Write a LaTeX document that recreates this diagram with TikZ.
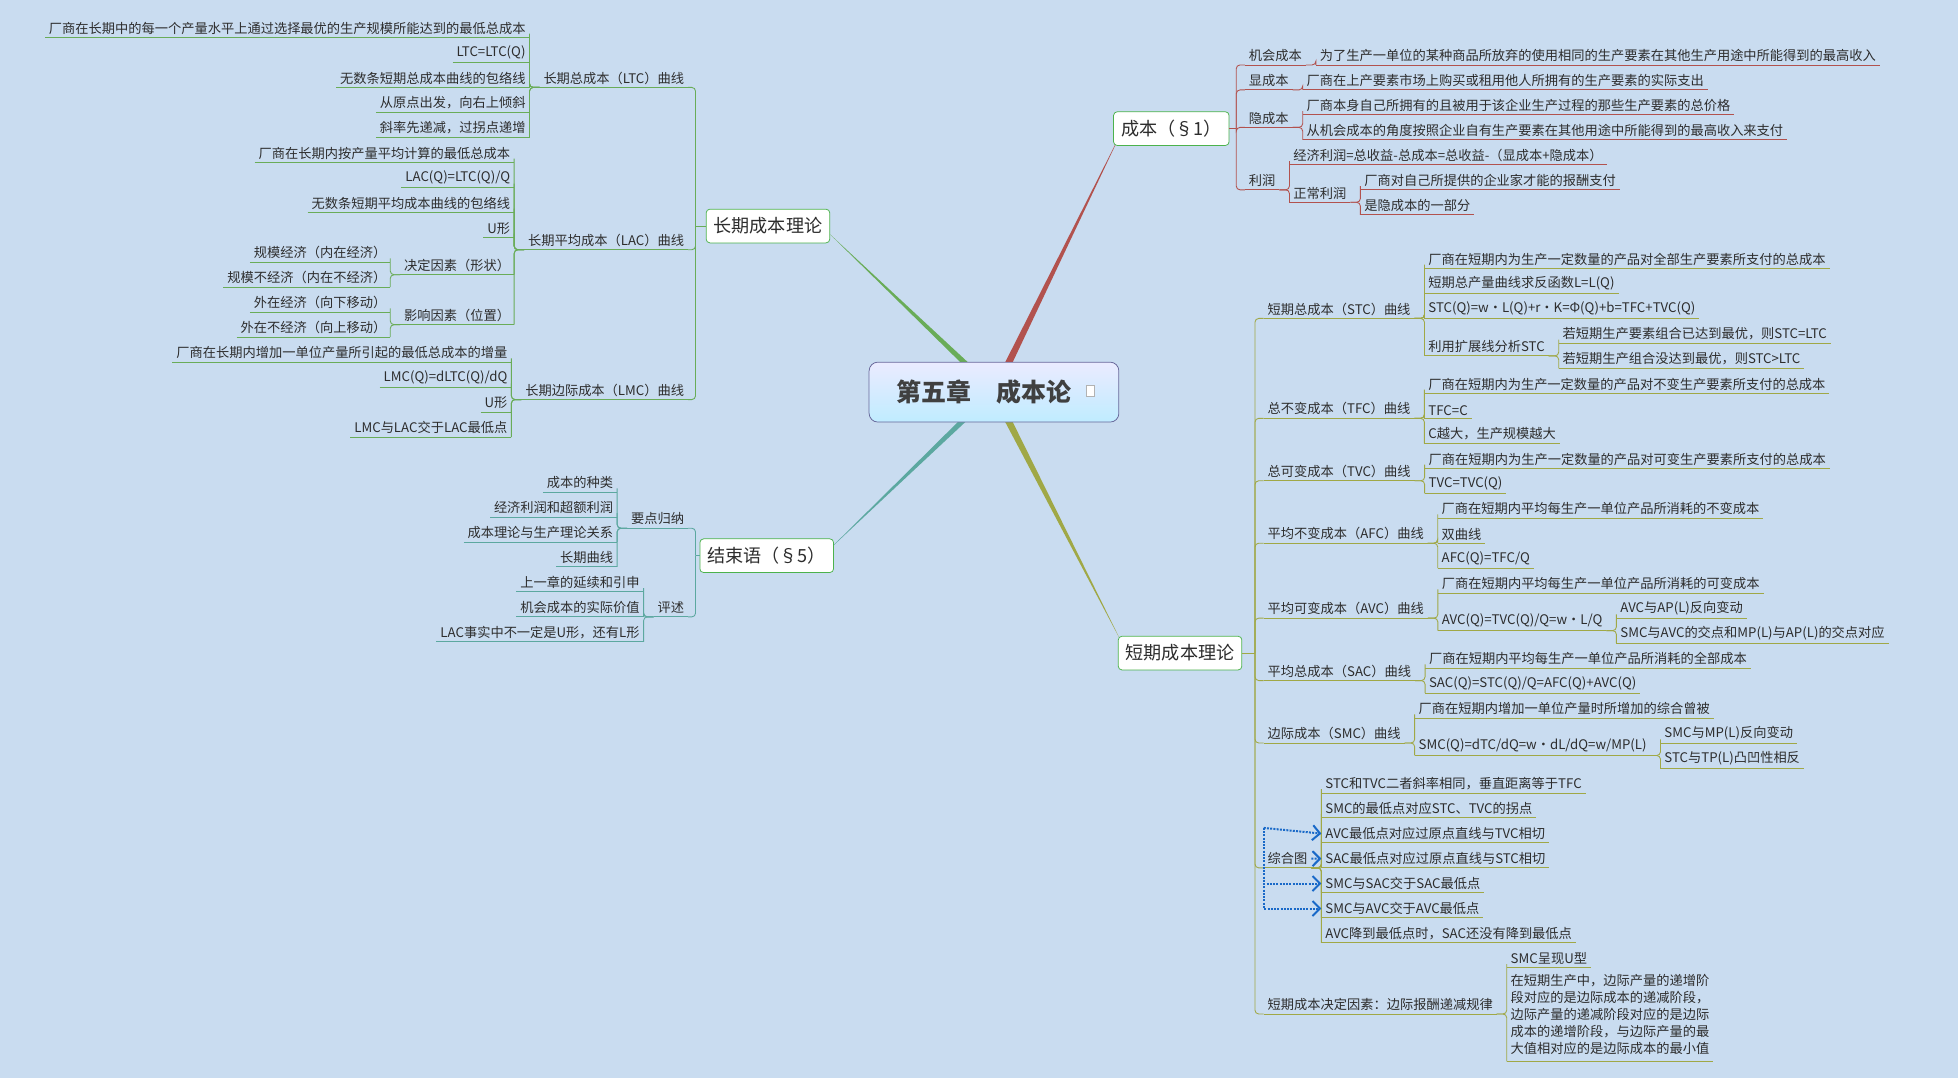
\documentclass[tikz,border=0pt]{standalone}
\usepackage{fontspec}
\setmainfont{Noto Sans CJK SC}
\usetikzlibrary{arrows.meta,calc}
\definecolor{bg}{RGB}{201,220,240}
\definecolor{txt}{RGB}{45,45,45}
\definecolor{cg}{RGB}{105,172,88}
\definecolor{ct}{RGB}{92,168,160}
\definecolor{cr}{RGB}{178,82,78}
\definecolor{co}{RGB}{160,168,70}
\definecolor{relc}{RGB}{25,105,200}
\colorlet{bc}{cg}
\newcommand\ULx[1]{\draw[ul](#1.south west)--(#1.south east);}
\newcommand\LC[4]{\node[lt,anchor=south east](#2) at ($(#1.south west)+(-8,#3)$){#4};\ULx{#2}
 \draw[cn](#1.south west)--($(#1.south west)+(-8,0)$)|-(#2.south east);}
\newcommand\RC[4]{\node[lt,anchor=south west](#2) at ($(#1.south east)+(8,#3)$){#4};\ULx{#2}
 \draw[cn](#1.south east)--($(#1.south east)+(8,0)$)|-(#2.south west);}
\newcommand\LT[4]{\node[lt,anchor=south east](#1) at (#2,#3){#4};\ULx{#1}}
\newcommand\RT[4]{\node[lt,anchor=south west](#1) at (#2,#3){#4};\ULx{#1}}
\begin{document}
\begin{tikzpicture}[x=1pt,y=-1pt,
 lt/.style={font=\fontsize{10.6}{13.6}\selectfont, text=txt, inner xsep=3pt, inner ysep=2.3pt},
 ul/.style={draw=bc, line width=0.7pt},
 cn/.style={draw=bc, line width=0.7pt, rounded corners=3pt},
 mn/.style={draw=gray!60!green, fill=white, rounded corners=3pt, line width=0.6pt,
   font=\fontsize{14.5}{16}\selectfont, text=txt, inner xsep=6pt, minimum height=27pt},
 rel/.style={draw=relc, densely dotted, line width=1.6pt, -{Straight Barb[length=6pt,width=12pt,line width=1.6pt]}}]
\fill[bg] (0,0) rectangle (1568,863);
\useasboundingbox (0,0) rectangle (1568,863);
% trunk lines
\coordinate (g0) at (772,290); \coordinate (g1) at (664,187);
\coordinate (t0) at (770,338); \coordinate (t1) at (663,441);
\coordinate (r0) at (808,290); \coordinate (r1) at (898,106);
\coordinate (o0) at (808,338); \coordinate (o1) at (898,514);
\fill[cg] ($(g0)+(-3,0)$)--($(g0)+(3,0)$)--(g1)--cycle;
\fill[ct] ($(t0)+(-3,0)$)--($(t0)+(3,0)$)--(t1)--cycle;
\fill[cr] ($(r0)+(-3,0)$)--($(r0)+(3,0)$)--(r1)--cycle;
\fill[co] ($(o0)+(-3,0)$)--($(o0)+(3,0)$)--(o1)--cycle;
\node[draw=gray!80!blue, rounded corners=7pt, minimum width=200pt, minimum height=48pt,
  top color=blue!8!white, bottom color=blue!30!cyan!25!white, line width=0.6pt] (R) at (796,314) {};
\node[font=\fontsize{20}{22}\selectfont\bfseries, text=black!75] (Rt) at (788,314) {第五章　成本论};
\node[draw=gray!60, fill=white, minimum width=7pt, minimum height=9pt, inner sep=0pt] (Ri) at (873,313) {};
% ===== left: 长期成本理论
\node[mn] (LTn) at (615,181) {长期成本理论};
\coordinate (J1) at (557,181);
\draw[cn] (J1)--(LTn.west);
\LT{A}{551}{70}{长期总成本（LTC）曲线}
\draw[cn] (A.south east)-|(J1);
\LC{A}{a1}{-40}{厂商在长期中的每一个产量水平上通过选择最优的生产规模所能达到的最低总成本}
\LC{A}{a2}{-20}{LTC=LTC(Q)}
\LC{A}{a3}{0}{无数条短期总成本曲线的包络线}
\LC{A}{a4}{20}{从原点出发，向右上倾斜}
\LC{A}{a5}{40}{斜率先递减，过拐点递增}
\LT{B}{551}{200}{长期平均成本（LAC）曲线}
\draw[cn] (B.south east)-|(J1);
\LC{B}{b1}{-70}{厂商在长期内按产量平均计算的最低总成本}
\LC{B}{b2}{-50}{LAC(Q)=LTC(Q)/Q}
\LC{B}{b3}{-30}{无数条短期平均成本曲线的包络线}
\LC{B}{b4}{-10}{U形}
\LC{B}{b5}{20}{决定因素（形状）}
\LC{B}{b6}{60}{影响因素（位置）}
\LC{b5}{b51}{-10}{规模经济（内在经济）}
\LC{b5}{b52}{10}{规模不经济（内在不经济）}
\LC{b6}{b61}{-10}{外在经济（向下移动）}
\LC{b6}{b62}{10}{外在不经济（向上移动）}
\LT{C}{551}{320}{长期边际成本（LMC）曲线}
\draw[cn] (C.south east)-|(J1);
\LC{C}{c1}{-30}{厂商在长期内增加一单位产量所引起的最低总成本的增量}
\LC{C}{c2}{-10}{LMC(Q)=dLTC(Q)/dQ}
\LC{C}{c3}{10}{U形}
\LC{C}{c4}{30}{LMC与LAC交于LAC最低点}
% ===== 结束语
\colorlet{bc}{ct}
\node[mn] (JS) at (614,445) {结束语（§5）};
\coordinate (J4) at (557,445);
\draw[cn] (J4)--(JS.west);
\LT{E1}{551}{423}{要点归纳}
\draw[cn] (E1.south east)-|(J4);
\LC{E1}{e1}{-29}{成本的种类}
\LC{E1}{e2}{-9}{经济利润和超额利润}
\LC{E1}{e3}{11}{成本理论与生产理论关系}
\LC{E1}{e4}{31}{长期曲线}
\LT{E2}{551}{494}{评述}
\draw[cn] (E2.south east)-|(J4);
\LC{E2}{f1}{-20}{上一章的延续和引申}
\LC{E2}{f2}{0}{机会成本的实际价值}
\LC{E2}{f3}{20}{LAC事实中不一定是U形，还有L形}
% ===== 成本（§1）
\colorlet{bc}{cr}
\node[mn] (CB) at (938,103) {成本（§1）};
\coordinate (J3) at (990,103);
\draw[cn] (CB.east)--(J3);
\RT{K1}{997}{52}{机会成本}
\draw[cn] (J3)|-(K1.south west);
\RC{K1}{k11}{0}{为了生产一单位的某种商品所放弃的使用相同的生产要素在其他生产用途中所能得到的最高收入}
\RT{K2}{997}{72}{显成本}
\draw[cn] (J3)|-(K2.south west);
\RC{K2}{k21}{0}{厂商在上产要素市场上购买或租用他人所拥有的生产要素的实际支出}
\RT{K3}{997}{102}{隐成本}
\draw[cn] (J3)|-(K3.south west);
\RC{K3}{k31}{-10}{厂商本身自己所拥有的且被用于该企业生产过程的那些生产要素的总价格}
\RC{K3}{k32}{10}{从机会成本的角度按照企业自有生产要素在其他用途中所能得到的最高收入来支付}
\RT{K4}{997}{152}{利润}
\draw[cn] (J3)|-(K4.south west);
\RC{K4}{k41}{-20}{经济利润=总收益-总成本=总收益-（显成本+隐成本）}
\RC{K4}{k42}{10}{正常利润}
\RC{k42}{k421}{-10}{厂商对自己所提供的企业家才能的报酬支付}
\RC{k42}{k422}{10}{是隐成本的一部分}
% ===== 短期成本理论
\colorlet{bc}{co}
\node[mn] (DQ) at (945,523) {短期成本理论};
\coordinate (J2) at (1005,523);
\draw[cn] (DQ.east)--(J2);
\RT{S1}{1012}{255}{短期总成本（STC）曲线}
\draw[cn] (J2)|-(S1.south west);
\RC{S1}{s11}{-40}{厂商在短期内为生产一定数量的产品对全部生产要素所支付的总成本}
\RC{S1}{s12}{-20}{短期总产量曲线求反函数L=L(Q)}
\RC{S1}{s13}{0}{STC(Q)=w·L(Q)+r·K=Φ(Q)+b=TFC+TVC(Q)}
\RC{S1}{s14}{30}{利用扩展线分析STC}
\RC{s14}{s141}{-10}{若短期生产要素组合已达到最优，则STC=LTC}
\RC{s14}{s142}{10}{若短期生产组合没达到最优，则STC>LTC}
\RT{S2}{1012}{335}{总不变成本（TFC）曲线}
\draw[cn] (J2)|-(S2.south west);
\RC{S2}{s21}{-20}{厂商在短期内为生产一定数量的产品对不变生产要素所支付的总成本}
\RC{S2}{s22}{0}{TFC=C}
\RC{S2}{s23}{20}{C越大，生产规模越大}
\RT{S3}{1012}{385}{总可变成本（TVC）曲线}
\draw[cn] (J2)|-(S3.south west);
\RC{S3}{s31}{-10}{厂商在短期内为生产一定数量的产品对可变生产要素所支付的总成本}
\RC{S3}{s32}{10}{TVC=TVC(Q)}
\RT{S4}{1012}{435}{平均不变成本（AFC）曲线}
\draw[cn] (J2)|-(S4.south west);
\RC{S4}{s41}{-20}{厂商在短期内平均每生产一单位产品所消耗的不变成本}
\RC{S4}{s42}{0}{双曲线}
\RC{S4}{s43}{20}{AFC(Q)=TFC/Q}
\RT{S5}{1012}{495}{平均可变成本（AVC）曲线}
\draw[cn] (J2)|-(S5.south west);
\RC{S5}{s51}{-20}{厂商在短期内平均每生产一单位产品所消耗的可变成本}
\RC{S5}{s52}{10}{AVC(Q)=TVC(Q)/Q=w·L/Q}
\RC{s52}{s521}{-10}{AVC与AP(L)反向变动}
\RC{s52}{s522}{10}{SMC与AVC的交点和MP(L)与AP(L)的交点对应}
\RT{S6}{1012}{545}{平均总成本（SAC）曲线}
\draw[cn] (J2)|-(S6.south west);
\RC{S6}{s61}{-10}{厂商在短期内平均每生产一单位产品所消耗的全部成本}
\RC{S6}{s62}{10}{SAC(Q)=STC(Q)/Q=AFC(Q)+AVC(Q)}
\RT{S7}{1012}{595}{边际成本（SMC）曲线}
\draw[cn] (J2)|-(S7.south west);
\RC{S7}{s71}{-20}{厂商在短期内增加一单位产量时所增加的综合曾被}
\RC{S7}{s72}{10}{SMC(Q)=dTC/dQ=w·dL/dQ=w/MP(L)}
\RC{s72}{s721}{-10}{SMC与MP(L)反向变动}
\RC{s72}{s722}{10}{STC与TP(L)凸凹性相反}
\RT{S8}{1012}{695}{综合图}
\draw[cn] (J2)|-(S8.south west);
\RC{S8}{z1}{-60}{STC和TVC二者斜率相同，垂直距离等于TFC}
\RC{S8}{z2}{-40}{SMC的最低点对应STC、TVC的拐点}
\RC{S8}{z3}{-20}{AVC最低点对应过原点直线与TVC相切}
\RC{S8}{z4}{0}{SAC最低点对应过原点直线与STC相切}
\RC{S8}{z5}{20}{SMC与SAC交于SAC最低点}
\RC{S8}{z6}{40}{SMC与AVC交于AVC最低点}
\RC{S8}{z7}{60}{AVC降到最低点时，SAC还没有降到最低点}
\RT{S9}{1012}{812}{短期成本决定因素：边际报酬递减规律}
\draw[cn] (J2)|-(S9.south west);
\RC{S9}{y1}{-37}{SMC呈现U型}
\RC{S9}{y2}{38}{\begin{tabular}{@{}l@{}}在短期生产中，边际产量的递增阶\\段对应的是边际成本的递减阶段，\\边际产量的递减阶段对应的是边际\\成本的递增阶段，与边际产量的最\\大值相对应的是边际成本的最小值\end{tabular}}
% relationship arrows
\coordinate (dl) at (1012,663);
\draw[rel] (dl)--(z3.west);
\draw[rel] (dl)|-(z5.west);
\draw[rel] (dl)|-(z6.west);
\draw[rel] (S8.east)--(z4.west);
\end{tikzpicture}
\end{document}
